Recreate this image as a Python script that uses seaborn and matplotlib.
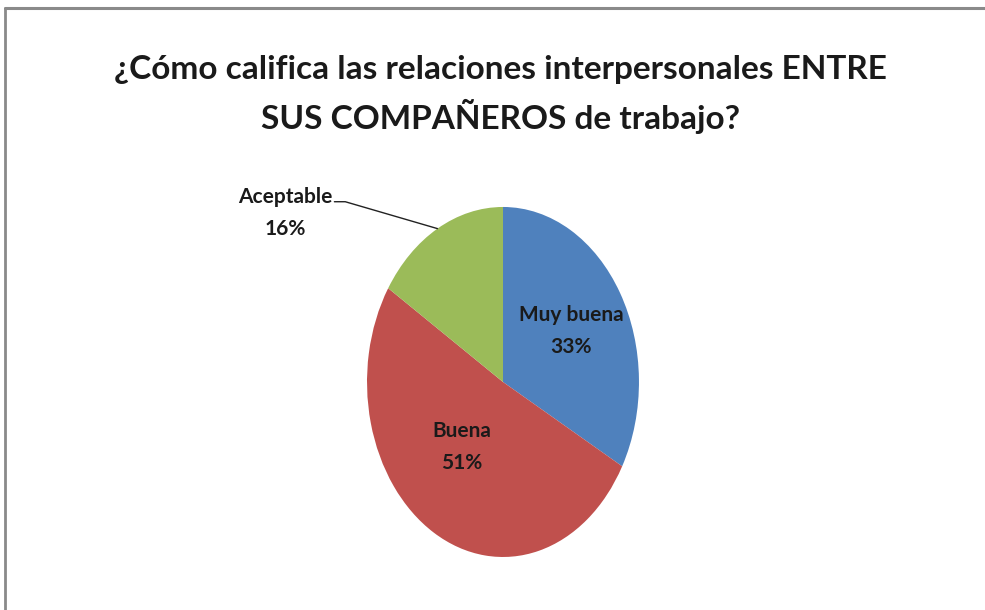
import numpy as np
import matplotlib
matplotlib.use("Agg")
import matplotlib.pyplot as plt
import seaborn as sns
from matplotlib.lines import Line2D

sns.set_theme(style="white")
plt.rcParams["font.family"] = ["Lato", "DejaVu Sans"]

# data
categories = ["Muy buena", "Buena", "Aceptable"]
percents = [33, 51, 16]
colors = ["#4F81BD", "#C0504D", "#9BBB59"]
title = "¿Cómo califica las relaciones interpersonales ENTRE\nSUS COMPAÑEROS de trabajo?"

fig = plt.figure(figsize=(9.85, 6.1), dpi=100)
fig.patch.set_facecolor("white")

# pie is drawn slightly squashed (taller than wide), like the original
ax = fig.add_axes([0.3726, 0.0869, 0.2761, 0.5738])
wedges, _ = ax.pie(percents, colors=colors, startangle=90, counterclock=False,
                   radius=1.0, wedgeprops=dict(linewidth=0))
ax.set_aspect("auto")
ax.set_xlim(-1, 1)
ax.set_ylim(-1, 1)
ax.axis("off")

lab_kw = dict(ha="center", va="center", fontsize=15, fontweight="bold",
              color="#1a1a1a", linespacing=1.75)
ax.text(0.50, 0.29, f"{categories[0]}\n{percents[0]}%", **lab_kw)
ax.text(-0.30, -0.37, f"{categories[1]}\n{percents[1]}%", **lab_kw)

# outside label with leader line for the small slice
w = wedges[2]
mid = np.deg2rad((w.theta1 + w.theta2) / 2)
edge = (np.cos(mid), np.sin(mid))
ax.text(-1.60, 0.965, f"{categories[2]}\n{percents[2]}%", **lab_kw, clip_on=False)
ax.plot([-1.24, -1.16, edge[0]], [1.03, 1.03, edge[1]], color="#222222",
        lw=1.0, clip_on=False)

fig.text(0.508, 0.845, title, ha="center", va="center", fontsize=24,
         fontweight="bold", color="#1a1a1a", linespacing=1.5)

# chart frame (only top and left visible)
fig.add_artist(Line2D([4.5 / 985, 1], [1 - 7.5 / 610, 1 - 7.5 / 610],
                      transform=fig.transFigure, color="#8a8a8a", lw=2.2))
fig.add_artist(Line2D([4.5 / 985, 4.5 / 985], [0, 1 - 7.5 / 610],
                      transform=fig.transFigure, color="#8a8a8a", lw=2.0))

fig.savefig("out.png", dpi=100, facecolor="white")
plt.close(fig)
